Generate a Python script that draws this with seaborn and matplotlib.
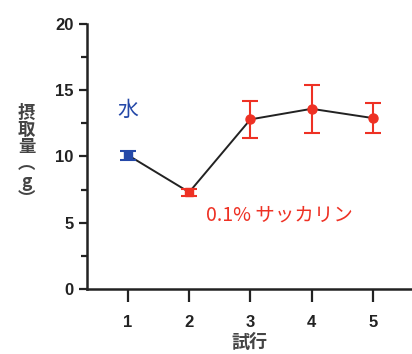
import pandas as pd
import seaborn as sns
import matplotlib.pyplot as plt

trials = [1, 2, 3, 4, 5]
intake = [10.1, 7.3, 12.8, 13.6, 12.9]
intake_err = [0.35, 0.25, 1.4, 1.8, 1.15]
drink = ["水", "サッカリン", "サッカリン", "サッカリン", "サッカリン"]
marker_kind = ["s", "s", "o", "o", "o"]

blue = "#2448a8"
red = "#ee3124"

sns.set_style("ticks")
plt.rcParams["font.family"] = ["Liberation Sans", "Noto Sans CJK JP", "DejaVu Sans"]

df = pd.DataFrame({"trial": trials, "intake": intake, "err": intake_err,
                   "drink": drink, "marker": marker_kind})

fig, ax = plt.subplots(figsize=(4.12, 3.54), dpi=100)
fig.subplots_adjust(left=0.211, right=1.0, bottom=0.184, top=0.932)

sns.lineplot(data=df, x="trial", y="intake", color="#222222", lw=1.4, ax=ax,
             zorder=1)
for _, r in df.iterrows():
    c = blue if r["drink"] == "水" else red
    ax.errorbar(r["trial"], r["intake"], yerr=r["err"], fmt=r["marker"],
                color=c, ms=6.5 if r["marker"] == "o" else 6,
                capsize=6, elinewidth=1.5, capthick=1.5, zorder=3)

ax.text(1, 13.5, "水", color=blue, fontsize=15, ha="center", va="center",
        family=["Noto Sans CJK JP"])
ax.text(2.27, 5.6, "0.1% サッカリン", color=red, fontsize=14, ha="left",
        va="center", family=["Noto Sans CJK JP"])

ax.set_xlim(0.33, 5.64)
ax.set_ylim(0, 20)
ax.set_xticks(trials)
ax.set_yticks([0, 5, 10, 15, 20])
ax.set_yticks([2.5, 7.5, 12.5, 17.5], minor=True)
ax.tick_params(axis="both", labelsize=12, width=1.6, length=6, color="#222222",
               labelcolor="#222222")
ax.tick_params(axis="y", which="minor", width=1.6, length=4, color="#222222")
ax.tick_params(axis="x", pad=10, length=9)
for lab in ax.get_xticklabels() + ax.get_yticklabels():
    lab.set_fontweight("bold")

for s in ["left", "bottom"]:
    ax.spines[s].set_linewidth(1.8)
    ax.spines[s].set_color("#222222")
sns.despine(ax=ax)

ax.set_xlabel("試行", fontsize=13, color="#444444", labelpad=2,
              fontweight="bold", family=["Noto Sans CJK JP"])
ax.set_ylabel("")
fig.text(0.065, 0.56, "摂\n取\n量\n︵\ng\n︶", fontsize=12.5, color="#444444",
         ha="center", va="center", linespacing=0.95, fontweight="bold",
         family=["Noto Sans CJK JP"])

fig.savefig("out.png", dpi=100)
